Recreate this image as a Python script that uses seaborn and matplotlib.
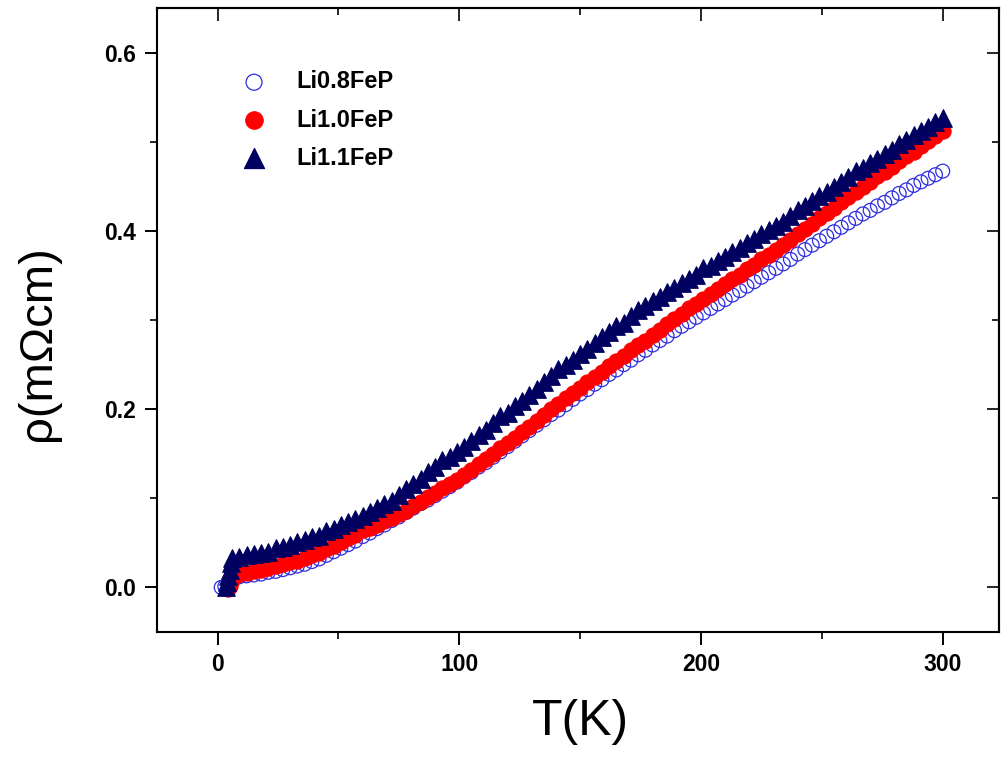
import numpy as np
import seaborn as sns
import matplotlib.pyplot as plt
import matplotlib.ticker as ticker

# 溫度掃描 (K)
T_grid = np.arange(6, 301, 3)

# Li0.8FeP
T_08_low = [1.5, 3.0, 4.5]
rho_08_low = [0.000, 0.001, 0.004]
rho_08 = [0.010, 0.012, 0.013, 0.014, 0.015, 0.017, 0.018, 0.020, 0.022, 0.024,
          0.026, 0.029, 0.032, 0.036, 0.040, 0.044, 0.048, 0.052, 0.057, 0.061,
          0.066, 0.070, 0.075, 0.079, 0.084, 0.089, 0.094, 0.098, 0.103, 0.108,
          0.113, 0.118, 0.124, 0.129, 0.135, 0.140, 0.146, 0.152, 0.158, 0.164,
          0.170, 0.176, 0.182, 0.188, 0.194, 0.199, 0.205, 0.211, 0.217, 0.222,
          0.228, 0.233, 0.239, 0.244, 0.250, 0.255, 0.261, 0.266, 0.272, 0.277,
          0.282, 0.288, 0.293, 0.298, 0.303, 0.308, 0.313, 0.318, 0.323, 0.328,
          0.333, 0.338, 0.343, 0.348, 0.353, 0.358, 0.363, 0.368, 0.374, 0.379,
          0.384, 0.389, 0.394, 0.399, 0.404, 0.409, 0.414, 0.419, 0.423, 0.428,
          0.432, 0.437, 0.442, 0.446, 0.451, 0.455, 0.459, 0.463, 0.467]

# Li1.0FeP (從 9 K 開始)
T_10_low = [4.5, 5.0, 6.0, 7.0, 8.0]
rho_10_low = [-0.002, 0.002, 0.008, 0.013, 0.014]
rho_10 = [0.015, 0.016, 0.018, 0.020, 0.022, 0.024, 0.026, 0.028, 0.030, 0.033,
          0.036, 0.039, 0.043, 0.047, 0.051, 0.055, 0.059, 0.064, 0.067, 0.070,
          0.074, 0.078, 0.082, 0.086, 0.091, 0.096, 0.101, 0.106, 0.111, 0.116,
          0.121, 0.126, 0.132, 0.138, 0.144, 0.150, 0.156, 0.162, 0.168, 0.174,
          0.180, 0.187, 0.193, 0.200, 0.206, 0.212, 0.218, 0.224, 0.230, 0.236,
          0.242, 0.248, 0.254, 0.260, 0.266, 0.272, 0.277, 0.283, 0.289, 0.295,
          0.301, 0.307, 0.313, 0.318, 0.324, 0.329, 0.335, 0.340, 0.346, 0.351,
          0.357, 0.362, 0.368, 0.373, 0.379, 0.384, 0.390, 0.396, 0.402, 0.408,
          0.414, 0.420, 0.426, 0.432, 0.438, 0.444, 0.449, 0.455, 0.461, 0.466,
          0.472, 0.478, 0.484, 0.489, 0.495, 0.501, 0.506, 0.512]

# Li1.1FeP
T_11_low = [3.5, 4.0, 4.5, 5.0, 5.5]
rho_11_low = [0.000, 0.006, 0.013, 0.020, 0.027]
rho_11 = [0.033, 0.034, 0.036, 0.037, 0.039, 0.040, 0.044, 0.045, 0.048, 0.051,
          0.053, 0.057, 0.058, 0.063, 0.066, 0.070, 0.073, 0.077, 0.080, 0.085,
          0.089, 0.094, 0.097, 0.104, 0.110, 0.116, 0.122, 0.129, 0.135, 0.143,
          0.146, 0.152, 0.158, 0.164, 0.171, 0.177, 0.184, 0.192, 0.196, 0.203,
          0.209, 0.216, 0.223, 0.230, 0.237, 0.245, 0.249, 0.255, 0.262, 0.268,
          0.274, 0.281, 0.287, 0.293, 0.297, 0.305, 0.311, 0.316, 0.321, 0.326,
          0.331, 0.336, 0.341, 0.346, 0.351, 0.358, 0.361, 0.366, 0.371, 0.376,
          0.381, 0.386, 0.391, 0.396, 0.401, 0.406, 0.410, 0.417, 0.423, 0.428,
          0.433, 0.439, 0.444, 0.449, 0.455, 0.460, 0.467, 0.471, 0.476, 0.481,
          0.486, 0.491, 0.497, 0.502, 0.507, 0.512, 0.517, 0.522, 0.527]

labels = ["Li0.8FeP", "Li1.0FeP", "Li1.1FeP"]

sns.set_style("ticks")
plt.rcParams['font.family'] = ['Liberation Sans', 'DejaVu Sans']
plt.rcParams['text.color'] = 'black'
plt.rcParams['axes.labelcolor'] = 'black'

fig = plt.figure(figsize=(10.01, 7.64), dpi=100)
ax = fig.add_axes([0.157, 0.1728, 0.8415, 0.8167])

# 畫點: 藍 -> 紅 -> 深藍
sns.scatterplot(x=list(T_08_low) + list(T_grid), y=rho_08_low + rho_08, ax=ax,
                marker='o', s=100, color='#2d2de0', linewidth=0.9, label=labels[0])
ax.collections[-1].set_facecolor('none')
ax.collections[-1].set_edgecolor('#2d2de0')

sns.scatterplot(x=list(T_10_low) + list(T_grid[1:]), y=rho_10_low + rho_10, ax=ax,
                marker='o', s=120, color='#ff0000', edgecolor='#ff0000',
                linewidth=0.8, label=labels[1])

sns.scatterplot(x=list(T_11_low) + list(T_grid), y=rho_11_low + rho_11, ax=ax,
                marker='^', s=160, color='#000060', edgecolor='#000060',
                linewidth=0.8, label=labels[2])

ax.set_xlim(-25, 323.5)
ax.set_ylim(-0.05, 0.65)

ax.xaxis.set_major_locator(ticker.MultipleLocator(100))
ax.xaxis.set_minor_locator(ticker.MultipleLocator(50))
ax.yaxis.set_major_locator(ticker.MultipleLocator(0.2))
ax.yaxis.set_minor_locator(ticker.MultipleLocator(0.1))
ax.yaxis.set_major_formatter(ticker.FormatStrFormatter('%.1f'))

for sp in ax.spines.values():
    sp.set_linewidth(1.5)
    sp.set_color('black')

ax.tick_params(which='major', direction='out', length=9, width=1.4, pad=6,
               labelsize=16.5, colors='black')
ax.tick_params(which='minor', direction='out', length=5, width=1.4)
for lab in ax.get_xticklabels() + ax.get_yticklabels():
    lab.set_fontweight('bold')

# 上方與右方刻度朝內
top = ax.secondary_xaxis('top')
top.xaxis.set_major_locator(ticker.MultipleLocator(100))
top.xaxis.set_minor_locator(ticker.MultipleLocator(50))
top.tick_params(which='major', direction='in', length=9, width=1.4, labeltop=False)
top.tick_params(which='minor', direction='in', length=5, width=1.4)
top.spines['top'].set_linewidth(1.5)

right = ax.secondary_yaxis('right')
right.yaxis.set_major_locator(ticker.MultipleLocator(0.2))
right.yaxis.set_minor_locator(ticker.MultipleLocator(0.1))
right.tick_params(which='major', direction='in', length=9, width=1.4, labelright=False)
right.tick_params(which='minor', direction='in', length=5, width=1.4)
right.spines['right'].set_linewidth(1.5)

ax.set_xlabel("T(K)", fontsize=36, color='black')
ax.set_ylabel("ρ(mΩcm)", fontsize=34, color='black')
ax.xaxis.set_label_coords(0.502, -0.107)
ax.yaxis.set_label_coords(-0.115, 0.463)

leg = ax.legend(loc='upper left', bbox_to_anchor=(0.101, 0.900), frameon=False,
                prop={'weight': 'bold', 'size': 17}, handlelength=1.0,
                handletextpad=1.28, labelspacing=0.64, borderpad=0,
                borderaxespad=0, markerscale=1.15)
for t in leg.get_texts():
    t.set_color('black')

fig.savefig("out.png", dpi=100)
plt.close()
